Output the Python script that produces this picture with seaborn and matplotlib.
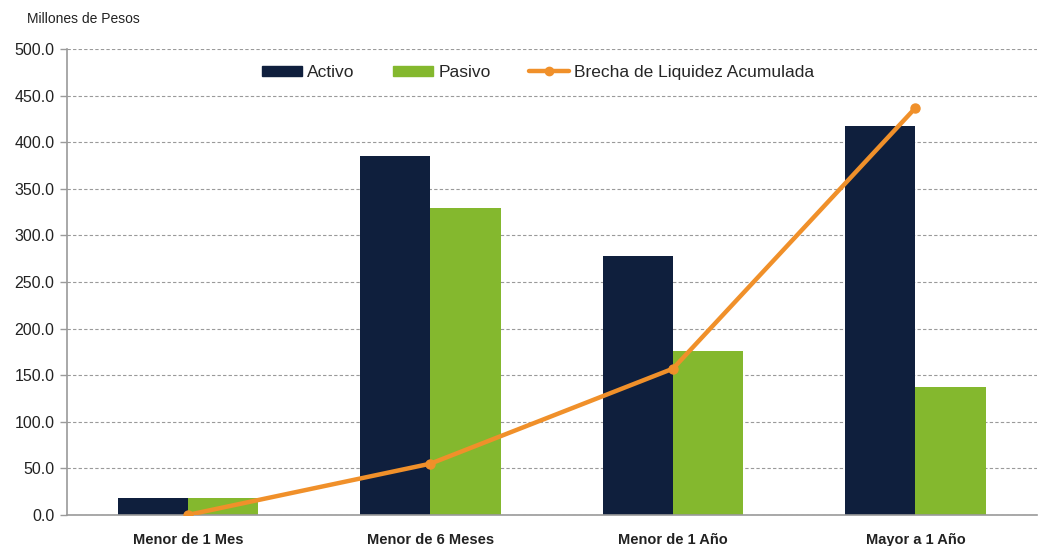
import matplotlib
matplotlib.use("Agg")
import matplotlib.pyplot as plt
import seaborn as sns
import pandas as pd
import numpy as np

categorias = ["Menor de 1 Mes", "Menor de 6 Meses", "Menor de 1 Año", "Mayor a 1 Año"]
activo = [18.0, 385.0, 278.0, 417.0]
pasivo = [18.0, 329.0, 176.0, 137.0]
brecha = [0.0, 55.0, 157.0, 437.0]
yticks = [0, 50, 100, 150, 200, 250, 300, 350, 400, 450, 500]

sns.set_theme(style="white")
plt.rcParams['font.family'] = ['Liberation Sans', 'DejaVu Sans']

df = pd.DataFrame({
    "cat": categorias * 2,
    "valor": activo + pasivo,
    "serie": ["Activo"] * 4 + ["Pasivo"] * 4,
})

fig = plt.figure(figsize=(10.43, 5.46), dpi=100)
ax = fig.add_axes([0.064, 0.057, 0.930, 0.853])

sns.barplot(data=df, x="cat", y="valor", hue="serie", order=categorias,
            palette={"Activo": "#0F1F3D", "Pasivo": "#84B82E"},
            width=0.58, saturation=1, ax=ax, legend=False, zorder=2,
            linewidth=0, edgecolor="none")
ax.plot(np.arange(len(categorias)), brecha, color="#F0902A", lw=3.2,
        marker="o", ms=6.5, zorder=3, solid_capstyle="round")

ax.set_xlim(-0.5, 3.5)
ax.set_ylim(0, 500)
ax.set_yticks(yticks)
ax.set_yticklabels([f"{v:.1f}" for v in yticks], fontsize=11.5, color="#222222")
ax.set_xticks(np.arange(len(categorias)))
ax.set_xticklabels(categorias, fontsize=10.5, fontweight="bold", color="#222222")
ax.set_xlabel("")
ax.set_ylabel("")
ax.grid(axis="y", color="#9a9a9a", linestyle=(0, (3, 2)), linewidth=0.8, zorder=0)
ax.set_axisbelow(True)
for s in ["top", "right"]:
    ax.spines[s].set_visible(False)
for s in ["left", "bottom"]:
    ax.spines[s].set_color("#9a9a9a")
    ax.spines[s].set_linewidth(1.2)
ax.tick_params(axis="x", length=5, color="#9a9a9a", width=1, pad=8)
ax.tick_params(axis="y", length=5, color="#9a9a9a", width=1, pad=4, direction="out")
ax.yaxis.set_tick_params(which="both", left=True)

from matplotlib.patches import Patch
from matplotlib.lines import Line2D
handles = [Patch(color="#0F1F3D", label="Activo"),
           Patch(color="#84B82E", label="Pasivo"),
           Line2D([0], [0], color="#F0902A", lw=3.2, marker="o", ms=6,
                  label="Brecha de Liquidez Acumulada")]
ax.legend(handles=handles, loc="upper center", bbox_to_anchor=(0.486, 1.0),
          ncol=3, frameon=False, fontsize=12.5, handlelength=2.3, handleheight=0.5,
          columnspacing=2.2, handletextpad=0.3)

fig.text(0.026, 0.965, "Millones de Pesos", fontsize=10, color="#222222",
         ha="left", va="center")

fig.savefig("out.png", dpi=100, facecolor="white")
